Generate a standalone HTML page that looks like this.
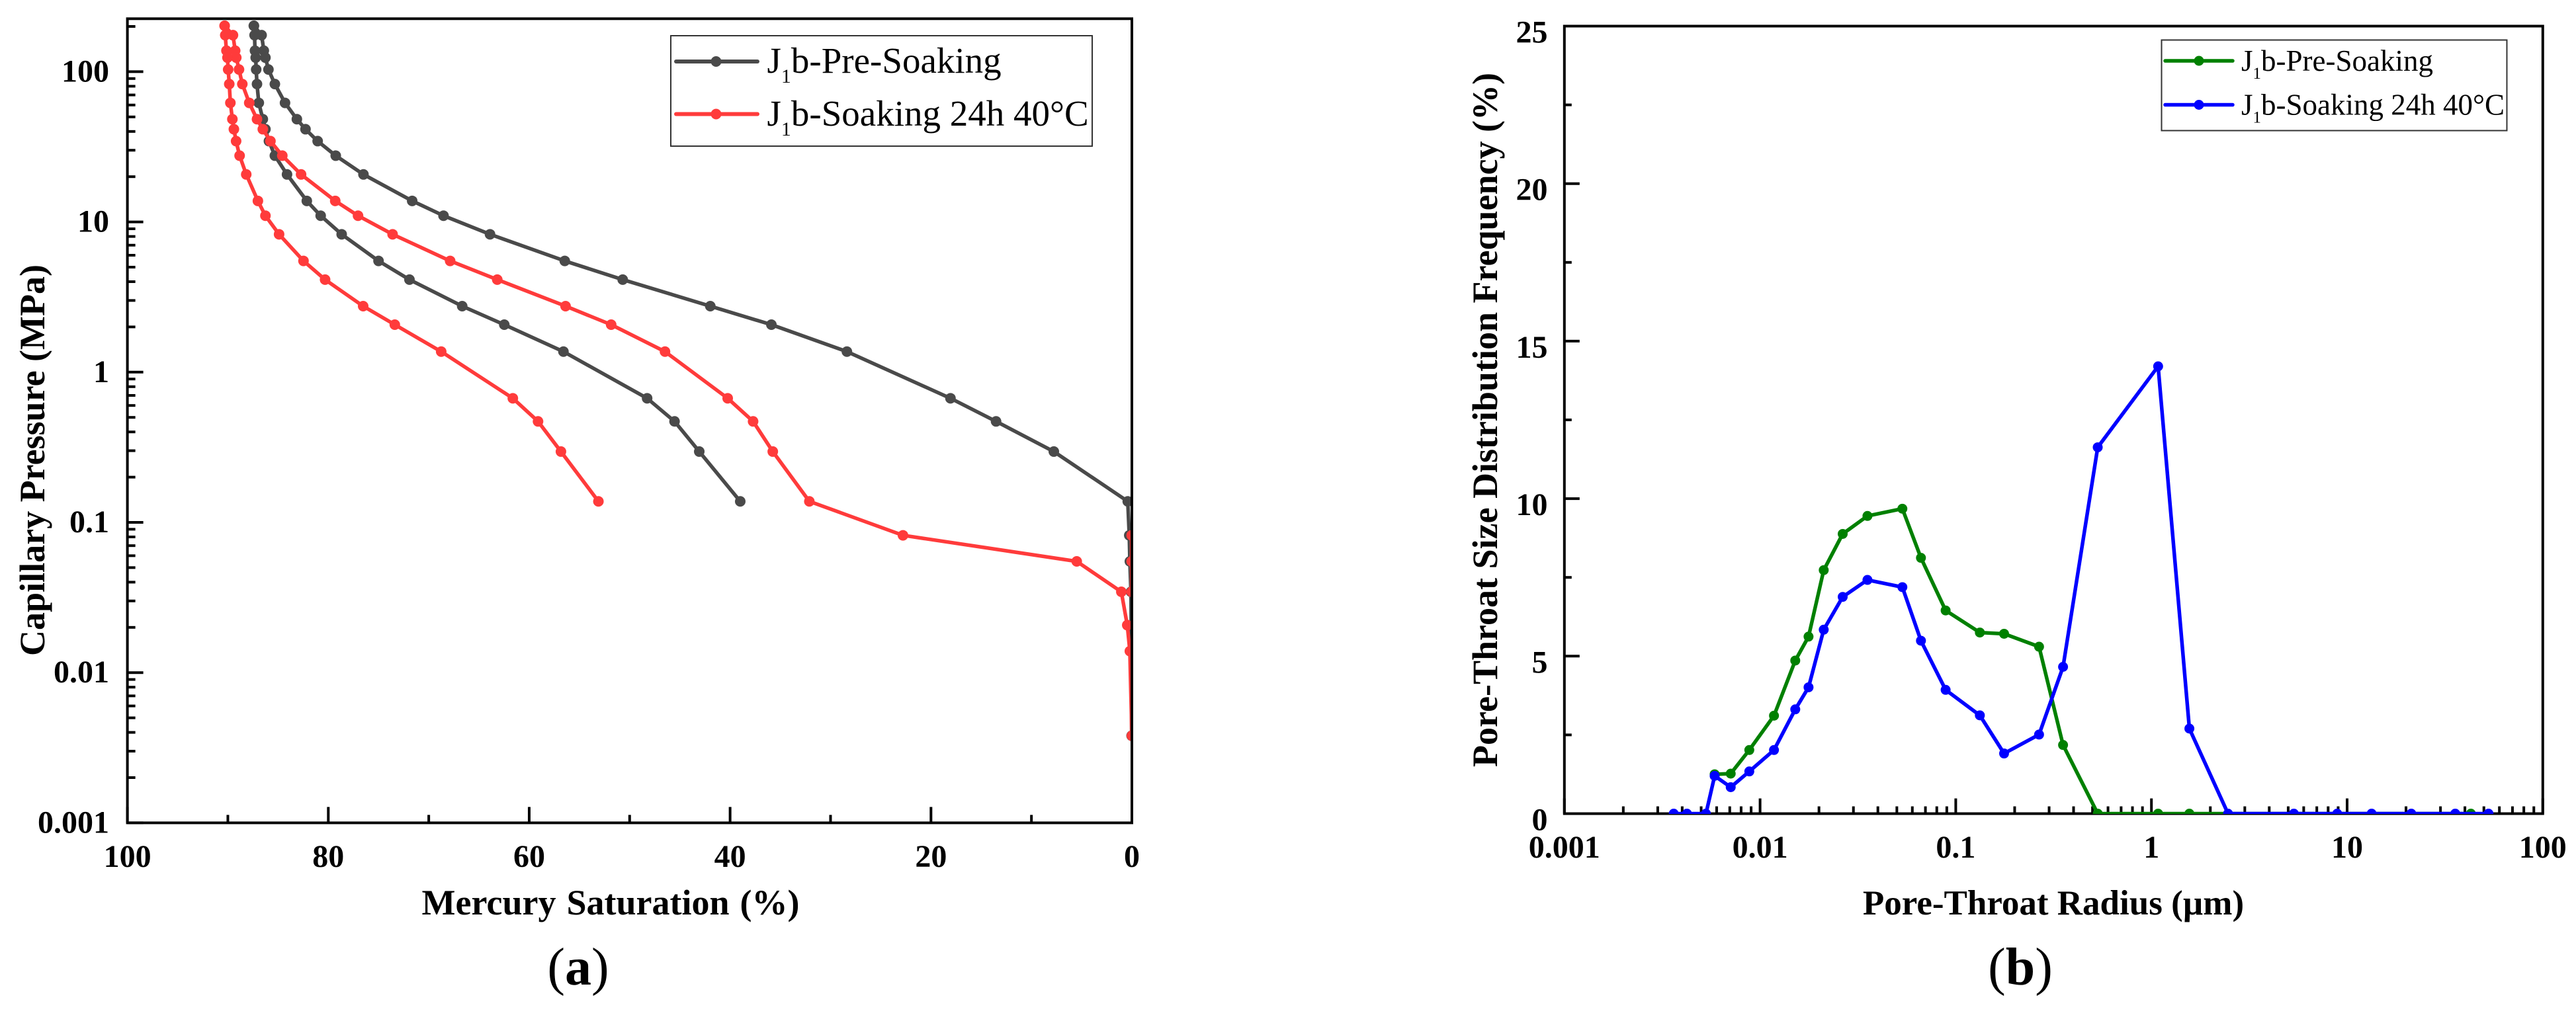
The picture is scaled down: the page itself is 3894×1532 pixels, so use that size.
<!DOCTYPE html>
<html lang="en">
<head>
<meta charset="utf-8">
<title>Mercury intrusion and pore-throat distribution charts</title>
<style>
html,body{margin:0;padding:0;background:#fff;}
svg{display:block;}
text{font-family:"Liberation Serif",serif;fill:#000;}
.tick{font-weight:bold;font-size:48px;}
.title{font-weight:bold;}
</style>
</head>
<body>
<svg id="figure" xmlns="http://www.w3.org/2000/svg" width="3894" height="1532" viewBox="0 0 3894 1532">
  <rect x="0" y="0" width="3894" height="1532" fill="#fff"/>
  <defs>
    <clipPath id="clip-a"><rect x="192.6" y="28" width="1518.4" height="1216.4"/></clipPath>
    <clipPath id="clip-b"><rect x="2364.8" y="39.5" width="1479" height="1191.5"/></clipPath>
  </defs>

  <g id="chart-a"></g>
  <g id="chart-b"></g>

  <text class="title" x="923" y="1383" text-anchor="middle" font-size="54" word-spacing="2.5">Mercury Saturation (%)</text>
  <text class="title" x="67" y="696" text-anchor="middle" font-size="54" transform="rotate(-90 67 696)">Capillary Pressure (MPa)</text>
  <text class="title" x="3104" y="1383" text-anchor="middle" font-size="53">Pore-Throat Radius (µm)</text>
  <text class="title" x="2263" y="635" text-anchor="middle" font-size="54" transform="rotate(-90 2263 635)">Pore-Throat Size Distribution Frequency (%)</text>

  <text x="874" y="1489" text-anchor="middle" font-size="80">(<tspan font-weight="bold">a</tspan>)</text>
  <text x="3054" y="1489" text-anchor="middle" font-size="80">(<tspan font-weight="bold">b</tspan>)</text>

  <g>
    <rect x="1014" y="54" width="637" height="167" fill="#fff" stroke="#333" stroke-width="2"/>
    <g>
      <line x1="1022" y1="93" x2="1145" y2="93" stroke="#4a4a4a" stroke-width="6" stroke-linecap="round"/>
      <circle cx="1082.5" cy="93" r="8" fill="#4a4a4a"/>
      <text x="1159.5" y="110" font-size="55">J<tspan font-size="30" dy="15">1</tspan><tspan dy="-15">b-Pre-Soaking</tspan></text>
    </g>
    <g>
      <line x1="1022" y1="172.5" x2="1145" y2="172.5" stroke="#ff3b3b" stroke-width="6" stroke-linecap="round"/>
      <circle cx="1082.5" cy="172.5" r="8" fill="#ff3b3b"/>
      <text x="1159.5" y="190" font-size="55">J<tspan font-size="30" dy="15">1</tspan><tspan dy="-15">b-Soaking 24h 40°C</tspan></text>
    </g>
  </g>

  <g>
    <rect x="3267.5" y="60.5" width="522" height="137" fill="#fff" stroke="#333" stroke-width="2"/>
    <g>
      <line x1="3273" y1="92" x2="3375" y2="92" stroke="#008000" stroke-width="5.5" stroke-linecap="round"/>
      <circle cx="3324" cy="92" r="7.5" fill="#008000"/>
      <text x="3388" y="107" font-size="45">J<tspan font-size="25" dy="12">1</tspan><tspan dy="-12">b-Pre-Soaking</tspan></text>
    </g>
    <g>
      <line x1="3273" y1="158.5" x2="3375" y2="158.5" stroke="#0000ff" stroke-width="5.5" stroke-linecap="round"/>
      <circle cx="3324" cy="158.5" r="7.5" fill="#0000ff"/>
      <text x="3388" y="173.5" font-size="45">J<tspan font-size="25" dy="12">1</tspan><tspan dy="-12">b-Soaking 24h 40°C</tspan></text>
    </g>
  </g>
</svg>

<script>
// ---- Chart (a) data: capillary pressure (MPa) vs mercury saturation (%) ----
const pressureLevels = [202, 175, 138, 124, 103.4, 82.7, 62, 48.3, 41.4, 34.5, 27.6, 20.7, 13.8, 11, 8.27, 5.5, 4.13, 2.75, 2.07, 1.37, 0.67, 0.47, 0.296, 0.138, 0.082, 0.055, 0.0345, 0.0207, 0.0139, 0.0038];
const preSoakingIntrusion = [87.41, 86.64, 86.42, 86.26, 85.96, 85.32, 84.31, 83.13, 82.27, 81.06, 79.26, 76.50, 71.65, 68.53, 63.90, 56.46, 50.69, 41.97, 35.89, 28.37, 18.06, 13.52, 7.77, 0.41, 0.26, 0.20, 0.09, 0.07, 0.07, 0.03];
const preSoakingExtrusion = [87.41, 87.34, 87.30, 87.23, 87.18, 87.10, 86.92, 86.52, 86.26, 85.91, 85.32, 84.11, 82.14, 80.76, 78.67, 75.00, 71.92, 66.67, 62.48, 56.59, 48.26, 45.53, 43.07, 38.99];
const soakingIntrusion = [90.32, 89.49, 89.27, 89.16, 88.89, 88.56, 87.87, 87.10, 86.52, 85.76, 84.58, 82.71, 79.31, 77.04, 73.60, 67.87, 63.18, 56.38, 51.84, 46.48, 40.24, 37.71, 35.75, 32.11, 22.79, 5.49, 1.05, 0.46, 0.20, 0.0];
const soakingExtrusion = [90.32, 90.26, 90.14, 90.04, 89.97, 89.86, 89.75, 89.55, 89.40, 89.18, 88.83, 88.17, 87.01, 86.26, 84.90, 82.47, 80.32, 76.53, 73.38, 68.76, 61.63, 59.12, 56.84, 53.11];
const soakingEdgePressure = [0.082, 0.055, 0.0345];
const soakingEdgeSaturation = [0.02, 0.02, 0.02];
const xTicksA = [100, 80, 60, 40, 20, 0];
const xMinorTicksA = [90, 70, 50, 30, 10];
const yTicksA = ["100", "10", "1", "0.1", "0.01", "0.001"];

// ---- Chart (b) data: frequency (%) vs pore-throat radius (um) ----
const greenRadius = [0.00586, 0.00708, 0.00881, 0.01178, 0.01513, 0.01769, 0.02115, 0.02644, 0.03538, 0.05336, 0.0664, 0.08878, 0.1328, 0.1766, 0.2665, 0.3535, 0.5316, 1.082, 1.563, 42.9];
const greenFrequency = [1.25, 1.27, 2.02, 3.11, 4.86, 5.62, 7.73, 8.88, 9.45, 9.68, 8.12, 6.45, 5.75, 5.71, 5.30, 2.18, 0, 0, 0, 0];
const blueRadius = [0.00362, 0.00423, 0.00529, 0.00586, 0.00708, 0.00881, 0.01178, 0.01513, 0.01769, 0.02115, 0.02644, 0.03538, 0.05336, 0.0664, 0.08878, 0.1328, 0.1766, 0.2665, 0.3535, 0.5316, 1.082, 1.563, 2.463, 5.344, 8.9, 13.34, 21.28, 35.7, 52.8];
const blueFrequency = [0, 0, 0, 1.20, 0.84, 1.34, 2.02, 3.31, 4.01, 5.84, 6.88, 7.42, 7.19, 5.49, 3.93, 3.12, 1.91, 2.51, 4.66, 11.63, 14.2, 2.70, 0, 0, 0, 0, 0, 0, 0];
const xTicksB = ["0.001", "0.01", "0.1", "1", "10", "100"];
const yTicksB = [0, 5, 10, 15, 20, 25];
const yMinorTicksB = [2.5, 7.5, 12.5, 17.5, 22.5];

// ---- Axis functions ----
const A = {left: 192.6, right: 1711, top: 28.3, bottom: 1244.4, decade: 227.2};
const B = {left: 2364.8, right: 3843.8, top: 39.5, bottom: 1230.5};
function xA(v) { return A.left + (100 - v) / 100 * (A.right - A.left); }
function yA(v) { return A.bottom - (Math.log10(v) + 3) * A.decade; }
function xB(v) { return B.left + (Math.log10(v) + 3) / 5 * (B.right - B.left); }
function yB(v) { return B.bottom - v / 25 * (B.bottom - B.top); }

const NS = 'http://www.w3.org/2000/svg';
function make(tag, parent, attrs) {
  const node = document.createElementNS(NS, tag);
  for (const key in attrs) node.setAttribute(key, attrs[key]);
  parent.appendChild(node);
  return node;
}

function drawSeries(parent, xs, ys, xFn, yFn, color, width, radius, clip, name) {
  const group = make('g', parent, {'clip-path': 'url(#' + clip + ')'});
  
  
  const pts = xs.map(function (x, i) { return xFn(x).toFixed(2) + ',' + yFn(ys[i]).toFixed(2); }).join(' ');
  const line = make('polyline', group, {points: pts, fill: 'none', stroke: color, 'stroke-width': width, 'stroke-linejoin': 'round'});
  
  
  xs.forEach(function (x, i) {
    const dot = make('circle', group, {cx: xFn(x).toFixed(2), cy: yFn(ys[i]).toFixed(2), r: radius, fill: color});
    
    
  });
}

function tickLine(parent, x1, y1, x2, y2, name) {
  const t = make('line', parent, {x1: x1, y1: y1, x2: x2, y2: y2, stroke: '#000', 'stroke-width': 4});
  
  
}

function tickText(parent, x, y, anchor, label, name) {
  const t = make('text', parent, {x: x, y: y, 'text-anchor': anchor, class: 'tick'});
  t.textContent = label;
  
  
}

function frame(parent, box, name) {
  const r = make('rect', parent, {x: box.left, y: box.top, width: box.right - box.left, height: box.bottom - box.top, fill: 'none', stroke: '#000', 'stroke-width': 4});
  
  
}

// ---- Chart (a) ----
const chartA = document.getElementById('chart-a');
const n = preSoakingExtrusion.length;
drawSeries(chartA, preSoakingIntrusion, pressureLevels, xA, yA, '#4a4a4a', 5.5, 8, 'clip-a', 'pre-soaking-intrusion-series');
drawSeries(chartA, preSoakingExtrusion, pressureLevels.slice(0, n), xA, yA, '#4a4a4a', 5.5, 8, 'clip-a', 'pre-soaking-extrusion-series');
drawSeries(chartA, soakingIntrusion, pressureLevels, xA, yA, '#ff3b3b', 5.5, 8, 'clip-a', 'soaking-intrusion-series');
drawSeries(chartA, soakingExtrusion, pressureLevels.slice(0, n), xA, yA, '#ff3b3b', 5.5, 8, 'clip-a', 'soaking-extrusion-series');
drawSeries(chartA, soakingEdgeSaturation, soakingEdgePressure, xA, yA, '#ff3b3b', 5.5, 8, 'clip-a', 'soaking-edge-series');
frame(chartA, A, 'plot-frame-a');

xTicksA.forEach(function (v) {
  tickLine(chartA, xA(v), A.bottom, xA(v), A.bottom - 24, 'x-major-tick-a');
  tickText(chartA, xA(v), 1311, 'middle', String(v), 'x-tick-label-a');
});
xMinorTicksA.forEach(function (v) {
  tickLine(chartA, xA(v), A.bottom, xA(v), A.bottom - 12, 'x-minor-tick-a');
});
yTicksA.forEach(function (label) {
  const v = parseFloat(label);
  tickLine(chartA, A.left, yA(v), A.left + 24, yA(v), 'y-major-tick-a');
  tickText(chartA, 165, yA(v) + 15, 'end', label, 'y-tick-label-a');
  for (let m = 2; m <= 9; m++) {
    const mv = v * m;
    if (yA(mv) > A.top + 2) tickLine(chartA, A.left, yA(mv), A.left + 12, yA(mv), 'y-minor-tick-a');
  }
});

// ---- Chart (b) ----
const chartB = document.getElementById('chart-b');
frame(chartB, B, 'plot-frame-b');
xTicksB.forEach(function (label) {
  const v = parseFloat(label);
  tickLine(chartB, xB(v), B.bottom, xB(v), B.bottom - 23, 'x-major-tick-b');
  tickText(chartB, xB(v), 1297, 'middle', label, 'x-tick-label-b');
  if (v < 100) {
    for (let m = 2; m <= 9; m++) {
      tickLine(chartB, xB(v * m), B.bottom, xB(v * m), B.bottom - 11, 'x-minor-tick-b');
    }
  }
});
yTicksB.forEach(function (v) {
  tickLine(chartB, B.left, yB(v), B.left + 23, yB(v), 'y-major-tick-b');
  tickText(chartB, 2339.5, yB(v) + 25, 'end', String(v), 'y-tick-label-b');
});
yMinorTicksB.forEach(function (v) {
  tickLine(chartB, B.left, yB(v), B.left + 11, yB(v), 'y-minor-tick-b');
});
drawSeries(chartB, greenRadius, greenFrequency, xB, yB, '#008000', 5.5, 7.5, 'clip-b', 'pre-soaking-frequency-series');
drawSeries(chartB, blueRadius, blueFrequency, xB, yB, '#0000ff', 5.5, 7.5, 'clip-b', 'soaking-frequency-series');
</script>
</body>
</html>
